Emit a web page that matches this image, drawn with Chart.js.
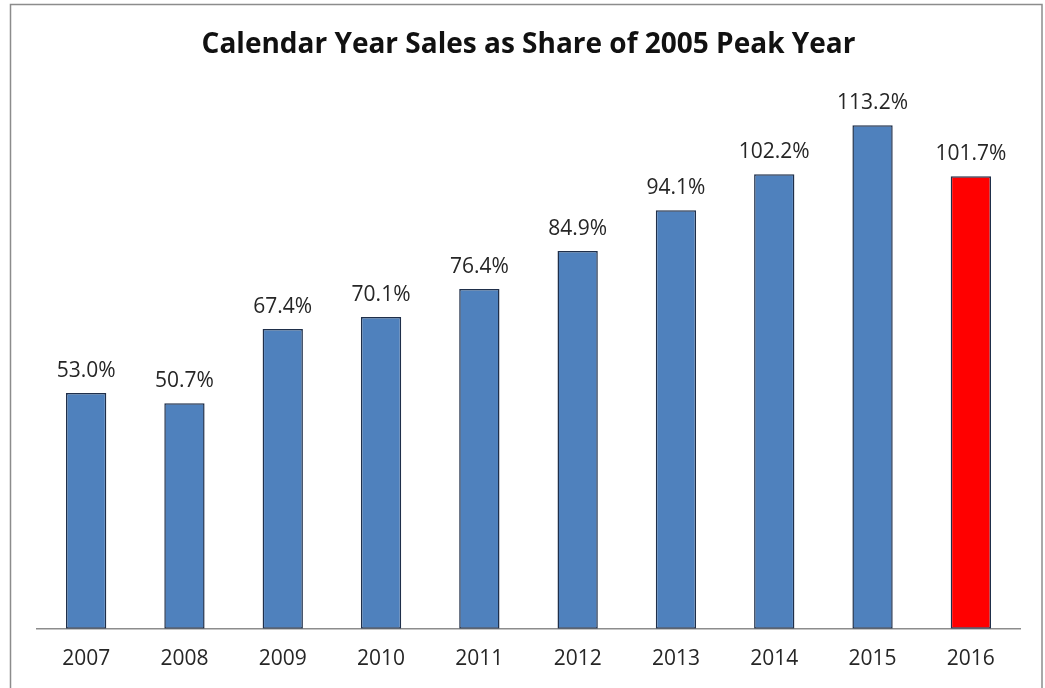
<!DOCTYPE html>
<html>
<head>
<meta charset="utf-8">
<script src="https://cdn.jsdelivr.net/npm/chart.js@4/dist/chart.umd.min.js"></script>
<style>
  html, body { margin: 0; padding: 0; background: #ffffff; }
  #wrap { position: relative; width: 1045px; height: 688px; }
</style>
</head>
<body>
<div id="wrap"><canvas id="c" width="1045" height="688"></canvas></div>
<script>
const titleText = "Calendar Year Sales as Share of 2005 Peak Year";
const years = ["2007", "2008", "2009", "2010", "2011", "2012", "2013", "2014", "2015", "2016"];
const shareOfPeak = [53.0, 50.7, 67.4, 70.1, 76.4, 84.9, 94.1, 102.2, 113.2, 101.7];
const barColors = ["#4F81BD", "#4F81BD", "#4F81BD", "#4F81BD", "#4F81BD", "#4F81BD", "#4F81BD", "#4F81BD", "#4F81BD", "#FF0000"];

const frame = {
  id: 'frame',
  beforeDraw(chart) {
    const ctx = chart.ctx;
    ctx.save();
    ctx.fillStyle = '#ffffff';
    ctx.fillRect(0, 0, chart.width, chart.height);
    ctx.strokeStyle = '#8c8c8c';
    ctx.lineWidth = 1.5;
    ctx.strokeRect(10.5, 4.5, 1031.5, 700);
    ctx.restore();
  }
};

const valueLabels = {
  id: 'valueLabels',
  afterDatasetsDraw(chart) {
    const ctx = chart.ctx;
    const meta = chart.getDatasetMeta(0);
    ctx.save();
    ctx.font = '21px "Open Sans", sans-serif';
    ctx.fillStyle = '#262626';
    ctx.textAlign = 'center';
    ctx.textBaseline = 'alphabetic';
    meta.data.forEach((bar, i) => {
      ctx.fillText(shareOfPeak[i].toFixed(1) + '%', bar.x, bar.y - 16);
    });
    ctx.restore();
  }
};

new Chart(document.getElementById('c'), {
  type: 'bar',
  data: {
    labels: years,
    datasets: [{
      data: shareOfPeak,
      backgroundColor: barColors,
      borderColor: '#1F2F4A',
      borderWidth: 1.5,
      borderSkipped: false,
      categoryPercentage: 1.0,
      barPercentage: 0.41
    }]
  },
  options: {
    responsive: false,
    animation: false,
    layout: { padding: { top: 28, left: 37, right: 25, bottom: -2 } },
    plugins: {
      legend: { display: false },
      tooltip: { enabled: false },
      title: {
        display: true,
        text: titleText,
        color: '#111111',
        font: { family: '"Open Sans", sans-serif', size: 28, weight: 'bold' },
        padding: { top: 0, bottom: 20 }
      }
    },
    scales: {
      x: {
        grid: { display: false, drawTicks: false },
        border: { display: true, color: '#8c8c8c', width: 1.5 },
        ticks: {
          color: '#262626',
          font: { family: '"Open Sans", sans-serif', size: 21 },
          padding: 18
        }
      },
      y: {
        display: false,
        min: 0,
        max: 123.0
      }
    }
  },
  plugins: [frame, valueLabels]
});
</script>
</body>
</html>
